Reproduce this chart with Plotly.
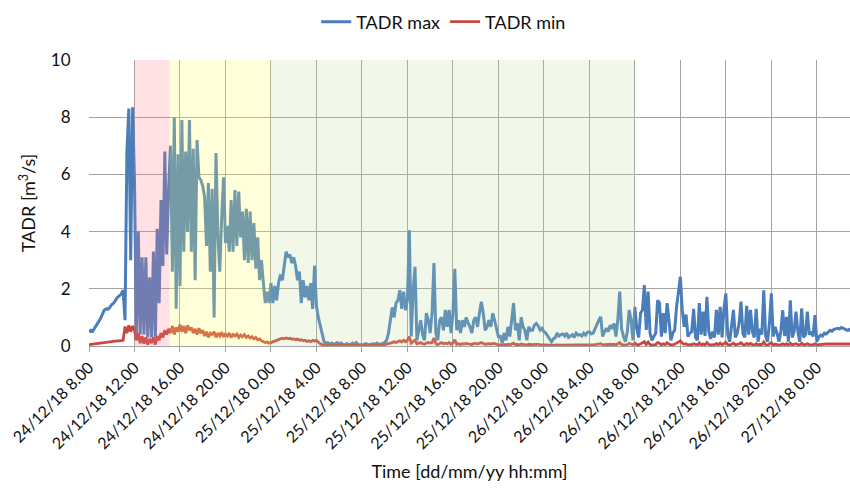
import pandas as pd
import plotly.graph_objects as go

# 10-minute samples starting 24/12/18 08:00
start_time = "2018-12-24 08:00"
step = "10min"

tadr_max = [
    # 24/12
    0.50, 0.55, 0.52, 0.62, 0.72, 0.85,
    0.95, 1.10, 1.25, 1.30, 1.28, 1.35,
    1.45, 1.50, 1.62, 1.70, 1.75, 1.82,
    1.95, 0.90, 6.80, 8.30, 3.00, 8.35,
    5.80, 0.45, 4.00, 0.40, 3.10, 0.40,
    3.10, 0.30, 2.40, 0.30, 3.30, 0.30,
    4.10, 1.50, 5.10, 2.80, 6.80, 3.20,
    5.50, 7.00, 2.60, 8.00, 1.30, 6.70,
    2.10, 7.90, 3.30, 6.80, 4.00, 7.90,
    3.30, 6.90, 2.30, 7.20, 5.90, 5.80,
    5.60, 5.20, 3.50, 5.70, 2.60, 5.50,
    1.00, 6.75, 3.90, 2.60, 4.50, 5.90,
    3.60, 4.20, 3.30, 5.10, 3.30, 5.45,
    3.50, 5.40, 3.80, 4.70, 3.00, 4.80,
    2.90, 4.70, 3.00, 4.30, 2.70, 3.80,
    2.30, 3.00, 2.20, 1.50, 1.90, 1.50,
    # 25/12
    2.20, 1.50, 2.10, 1.60, 2.20, 2.50,
    2.30, 2.90, 3.30, 3.10, 3.20, 2.90,
    3.10, 2.80, 2.30, 2.60, 1.50, 2.30,
    1.70, 2.10, 1.60, 2.20, 1.30, 2.80,
    1.40, 1.00, 0.70, 0.35, 0.15, 0.10,
    0.12, 0.06, 0.10, 0.05, 0.08, 0.12,
    0.06, 0.10, 0.05, 0.04, 0.08, 0.05,
    0.04, 0.10, 0.06, 0.12, 0.05, 0.04,
    0.05, 0.04, 0.08, 0.05, 0.04, 0.06,
    0.08, 0.06, 0.10, 0.05, 0.08, 0.10,
    0.12, 0.20, 0.45, 0.90, 1.35, 1.00,
    1.50, 1.60, 1.95, 1.30, 1.90, 1.25,
    1.60, 4.05, 0.33, 1.95, 2.77, 0.20,
    0.60, 0.90, 0.40, 0.20, 1.15, 0.90,
    0.45, 1.15, 2.90, 0.45, 0.20, 0.90,
    1.00, 0.55, 1.26, 0.67, 1.26, 0.45,
    1.15, 2.70, 0.55, 0.90, 0.45, 0.90,
    0.67, 1.00, 0.80, 0.67, 0.45, 0.90,
    1.00, 0.67, 1.15, 1.55, 1.15, 0.55,
    0.67, 0.90, 0.67, 1.15, 0.90, 0.55,
    0.33, 0.33, 0.10, 0.45, 0.20, 0.67,
    0.33, 0.90, 1.50, 0.55, 0.80, 0.20,
    1.00, 0.67, 0.55, 0.20, 0.67, 0.55,
    0.55, 0.73, 0.79, 0.70, 0.56, 0.62,
    # 26/12
    0.50, 0.45, 0.35, 0.25, 0.15, 0.25,
    0.30, 0.45, 0.35, 0.40, 0.42, 0.35,
    0.45, 0.30, 0.35, 0.40, 0.30, 0.45,
    0.38, 0.40, 0.35, 0.45, 0.38, 0.48,
    0.50, 0.42, 0.45, 0.62, 0.80, 0.90,
    1.02, 0.33, 0.50, 0.62, 0.50, 0.73,
    0.60, 0.79, 0.33, 0.90, 1.90, 0.60,
    0.33, 0.15, 0.50, 1.26, 0.90, 0.20,
    1.37, 0.60, 0.30, 1.15, 1.26, 2.13,
    0.56, 1.90, 0.45, 0.20, 0.33, 0.45,
    1.60, 1.50, 0.33, 1.15, 0.45, 1.50,
    0.90, 0.20, 0.45, 0.56, 1.37, 1.95,
    2.42, 1.26, 0.67, 1.10, 0.33, 0.45,
    0.50, 1.30, 0.30, 0.20, 1.50, 0.40,
    1.20, 0.35, 1.72, 0.50, 0.25, 0.50,
    0.30, 1.26, 0.40, 1.37, 0.30, 1.30,
    1.84, 0.40, 0.15, 0.70, 1.26, 0.30,
    0.45, 0.80, 1.55, 0.45, 0.30, 1.40,
    0.40, 1.26, 0.50, 0.30, 1.30, 0.15,
    0.60, 0.40, 1.95, 0.35, 0.15, 0.80,
    1.84, 0.33, 0.67, 0.45, 0.15, 0.50,
    1.25, 0.35, 1.02, 0.15, 1.60, 0.30,
    0.50, 1.20, 0.50, 0.15, 1.32, 0.30,
    0.40, 1.20, 0.40, 0.50, 0.33, 1.08,
    # 27/12
    0.15, 0.30, 0.38, 0.35, 0.45, 0.42,
    0.50, 0.55, 0.52, 0.58, 0.60, 0.62,
    0.60, 0.65, 0.62, 0.58, 0.55, 0.58,
    0.52,
]

tadr_min = [
    # 24/12
    0.05, 0.06, 0.07, 0.08, 0.09, 0.10,
    0.11, 0.12, 0.13, 0.13, 0.14, 0.15,
    0.15, 0.16, 0.17, 0.18, 0.18, 0.19,
    0.20, 0.68, 0.45, 0.72, 0.50, 0.70,
    0.55, 0.20, 0.45, 0.10, 0.35, 0.08,
    0.30, 0.05, 0.25, 0.10, 0.30, 0.05,
    0.35, 0.20, 0.45, 0.30, 0.55, 0.40,
    0.60, 0.45, 0.70, 0.40, 0.65, 0.50,
    0.75, 0.50, 0.70, 0.45, 0.72, 0.55,
    0.65, 0.45, 0.60, 0.40, 0.62, 0.45,
    0.55, 0.35, 0.50, 0.30, 0.45, 0.40,
    0.50, 0.30, 0.45, 0.35, 0.48, 0.32,
    0.42, 0.35, 0.45, 0.30, 0.40, 0.35,
    0.42, 0.30, 0.38, 0.32, 0.40, 0.30,
    0.35, 0.28, 0.33, 0.25, 0.30, 0.22,
    0.25, 0.18, 0.15, 0.12, 0.14, 0.10,
    # 25/12
    0.12, 0.15, 0.18, 0.20, 0.22, 0.25,
    0.27, 0.25, 0.28, 0.26, 0.27, 0.24,
    0.25, 0.22, 0.24, 0.20, 0.22, 0.18,
    0.20, 0.16, 0.18, 0.15, 0.20, 0.17,
    0.20, 0.12, 0.08, 0.05, 0.04, 0.03,
    0.03, 0.02, 0.03, 0.02, 0.03, 0.02,
    0.02, 0.03, 0.02, 0.02, 0.03, 0.02,
    0.02, 0.02, 0.03, 0.02, 0.02, 0.03,
    0.02, 0.03, 0.02, 0.02, 0.03, 0.02,
    0.03, 0.02, 0.03, 0.03, 0.04, 0.04,
    0.05, 0.06, 0.08, 0.10, 0.12, 0.15,
    0.12, 0.15, 0.18, 0.14, 0.20, 0.15,
    0.20, 0.33, 0.10, 0.15, 0.20, 0.08,
    0.10, 0.12, 0.08, 0.06, 0.10, 0.12,
    0.10, 0.12, 0.28, 0.08, 0.05, 0.10,
    0.12, 0.08, 0.10, 0.08, 0.12, 0.06,
    0.10, 0.22, 0.06, 0.08, 0.05, 0.08,
    0.07, 0.09, 0.08, 0.07, 0.05, 0.08,
    0.09, 0.07, 0.10, 0.12, 0.09, 0.06,
    0.07, 0.08, 0.06, 0.09, 0.08, 0.05,
    0.04, 0.04, 0.03, 0.05, 0.03, 0.06,
    0.04, 0.07, 0.10, 0.05, 0.06, 0.03,
    0.07, 0.06, 0.05, 0.03, 0.06, 0.05,
    0.05, 0.06, 0.07, 0.06, 0.05, 0.05,
    # 26/12
    0.04, 0.04, 0.03, 0.03, 0.02, 0.03,
    0.03, 0.04, 0.03, 0.03, 0.04, 0.03,
    0.04, 0.03, 0.03, 0.04, 0.03, 0.04,
    0.03, 0.04, 0.03, 0.04, 0.03, 0.04,
    0.04, 0.04, 0.04, 0.05, 0.06, 0.07,
    0.08, 0.04, 0.05, 0.06, 0.05, 0.06,
    0.05, 0.06, 0.04, 0.07, 0.12, 0.05,
    0.04, 0.03, 0.05, 0.09, 0.07, 0.04,
    0.10, 0.05, 0.04, 0.08, 0.10, 0.15,
    0.05, 0.14, 0.05, 0.03, 0.04, 0.05,
    0.12, 0.10, 0.04, 0.08, 0.05, 0.11,
    0.07, 0.03, 0.05, 0.06, 0.10, 0.14,
    0.18, 0.10, 0.06, 0.08, 0.04, 0.05,
    0.05, 0.08, 0.04, 0.03, 0.11, 0.04,
    0.07, 0.04, 0.12, 0.05, 0.03, 0.05,
    0.04, 0.09, 0.04, 0.10, 0.04, 0.08,
    0.13, 0.05, 0.03, 0.06, 0.10, 0.04,
    0.05, 0.07, 0.11, 0.05, 0.04, 0.09,
    0.05, 0.09, 0.05, 0.04, 0.08, 0.03,
    0.06, 0.05, 0.14, 0.04, 0.03, 0.07,
    0.12, 0.04, 0.06, 0.05, 0.03, 0.05,
    0.08, 0.04, 0.08, 0.03, 0.10, 0.04,
    0.05, 0.08, 0.05, 0.03, 0.10, 0.04,
    0.05, 0.08, 0.05, 0.05, 0.04, 0.08,
    # 27/12
    0.04, 0.05, 0.06, 0.06, 0.07, 0.07,
    0.07, 0.07, 0.07, 0.07, 0.07, 0.07,
    0.07, 0.07, 0.07, 0.07, 0.07, 0.07,
    0.07,
]

tick_values = [
    "2018-12-24 08:00", "2018-12-24 12:00", "2018-12-24 16:00", "2018-12-24 20:00",
    "2018-12-25 00:00", "2018-12-25 04:00", "2018-12-25 08:00", "2018-12-25 12:00",
    "2018-12-25 16:00", "2018-12-25 20:00", "2018-12-26 00:00", "2018-12-26 04:00",
    "2018-12-26 08:00", "2018-12-26 12:00", "2018-12-26 16:00", "2018-12-26 20:00",
    "2018-12-27 00:00",
]
tick_labels = [
    "24/12/18 8.00", "24/12/18 12.00", "24/12/18 16.00", "24/12/18 20.00",
    "25/12/18 0.00", "25/12/18 4.00", "25/12/18 8.00", "25/12/18 12.00",
    "25/12/18 16.00", "25/12/18 20.00", "26/12/18 0.00", "26/12/18 4.00",
    "26/12/18 8.00", "26/12/18 12.00", "26/12/18 16.00", "26/12/18 20.00",
    "27/12/18 0.00",
]

# shaded phases: (start, end, colour)
phase_starts = ["2018-12-24 12:00", "2018-12-24 15:05", "2018-12-25 00:00"]
phase_ends = ["2018-12-24 15:05", "2018-12-25 00:00", "2018-12-26 08:00"]
phase_colors = ["rgba(255,120,135,0.22)", "rgba(255,255,100,0.24)", "rgba(190,225,160,0.22)"]

x_range = ["2018-12-24 08:00", "2018-12-27 02:55"]

times = pd.date_range(start_time, periods=len(tadr_max), freq=step)

FONT = "Lato, 'Open Sans', sans-serif"
GRID = "#A3A3A3"

fig = go.Figure()
fig.add_trace(go.Scatter(x=times, y=tadr_max, mode="lines", name="TADR max",
                         line=dict(color="#4A7EBB", width=3)))
fig.add_trace(go.Scatter(x=times, y=tadr_min, mode="lines", name="TADR min",
                         line=dict(color="#C8473F", width=2.8)))

for s, e, c in zip(phase_starts, phase_ends, phase_colors):
    fig.add_shape(type="rect", xref="x", yref="y", x0=s, x1=e, y0=0, y1=10,
                  fillcolor=c, line=dict(width=0), layer="above")

fig.update_layout(
    width=850, height=489,
    margin=dict(l=89, r=0, t=60, b=143),
    paper_bgcolor="white", plot_bgcolor="white",
    font=dict(family=FONT, color="#111111", size=16),
    showlegend=True,
    legend=dict(orientation="h", xref="container", yref="container",
                x=0.522, xanchor="center", y=0.955, yanchor="middle",
                font=dict(size=18), itemwidth=30, tracegroupgap=0,
                bgcolor="rgba(0,0,0,0)"),
    xaxis=dict(
        type="date", range=x_range,
        tickmode="array", tickvals=tick_values, ticktext=tick_labels,
        tickangle=-45, tickfont=dict(size=16),
        showgrid=True, gridcolor=GRID, gridwidth=1,
        showline=True, linecolor=GRID, linewidth=1,
        ticks="outside", ticklen=5, tickcolor=GRID,
        zeroline=False,
        title=dict(text="Time [dd/mm/yy hh:mm]", font=dict(size=18), standoff=14),
    ),
    yaxis=dict(
        range=[0, 10], dtick=2, tick0=0,
        showgrid=True, gridcolor=GRID, gridwidth=1,
        zeroline=False, showline=False,
        ticks="outside", ticklen=14, tickcolor="rgba(0,0,0,0)",
        tickfont=dict(size=17),
        title=dict(text="TADR [m<sup>3</sup>/s]", font=dict(size=18), standoff=10),
    ),
)

fig.write_html("out.html")
